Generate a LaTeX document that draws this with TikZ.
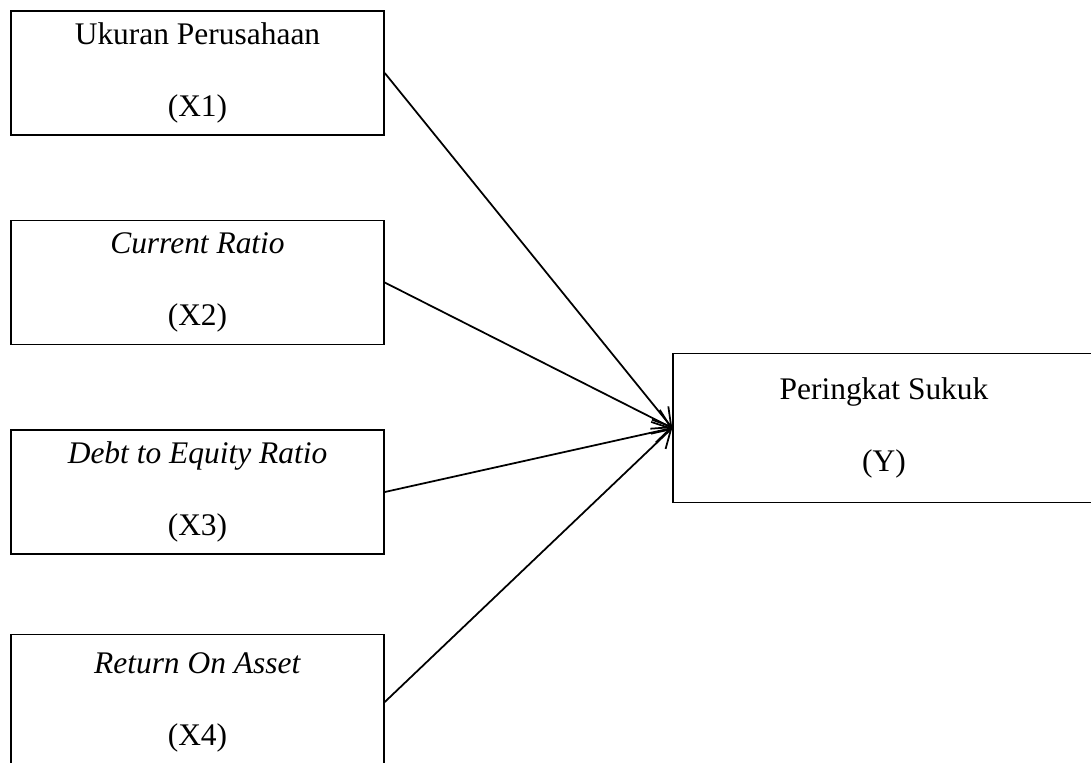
\documentclass[tikz,border=0pt]{standalone}
\usepackage{fontspec}
\setmainfont{Liberation Serif}
\usepackage{tikz}
\usetikzlibrary{arrows.meta}

\tikzset{
    varbox/.style={draw, line width=0.9pt, minimum width=7.46cm, minimum height=2.48cm,
        align=center, font=\fontsize{17.9}{41}\selectfont},
    ybox/.style={varbox, minimum width=8.44cm, minimum height=2.98cm},
    path/.style={line width=1pt, -{Straight Barb[length=10pt, width=12pt]}}
}

\begin{document}
\begin{tikzpicture}[x=0.02cm, y=-0.02cm]
    \useasboundingbox (0,0) rectangle (1091,762);

    % Independent variables
    \node[varbox] (x1) at (197.5,73) {Ukuran Perusahaan\\(X1)};
    \node[varbox] (x2) at (197.5,282.5) {\textit{Current Ratio}\\(X2)};
    \node[varbox] (x3) at (197.5,492) {\textit{Debt to Equity Ratio}\\(X3)};
    \node[varbox, minimum height=2.7cm] (x4) at (197.5,702) {\textit{Return On Asset}\\(X4)};

    % Dependent variable
    \node[ybox] (y) at (884,428) {Peringkat Sukuk\\(Y)};

    % Paths
    \draw[path] (x1.east) -- (y.west);
    \draw[path] (x2.east) -- (y.west);
    \draw[path] (x3.east) -- (y.west);
    \draw[path] (x4.east) -- (y.west);
\end{tikzpicture}
\end{document}
